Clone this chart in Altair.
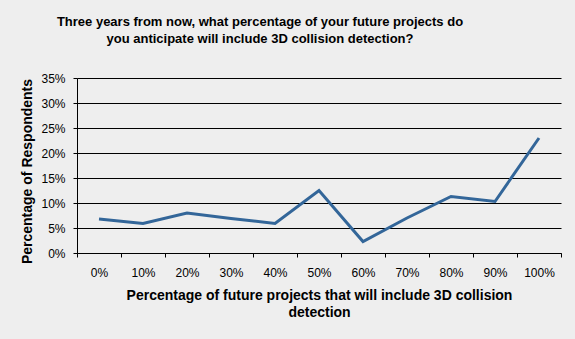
import altair as alt
import pandas as pd

categories = ["0%", "10%", "20%", "30%", "40%", "50%", "60%", "70%", "80%", "90%", "100%"]
values = [0.068, 0.059, 0.080, 0.069, 0.059, 0.125, 0.023, 0.070, 0.113, 0.103, 0.230]
y_ticks = [0, 0.05, 0.10, 0.15, 0.20, 0.25, 0.30, 0.35]

df = pd.DataFrame({"cat": categories, "val": values})

FONT = "Liberation Sans"

chart = alt.Chart(df).mark_line(color="#336699", strokeWidth=3).encode(
    x=alt.X("cat:N", sort=categories,
            scale=alt.Scale(paddingInner=0, paddingOuter=0),
            axis=alt.Axis(title=["Percentage of future projects that will include 3D collision", "detection"],
                          labelAngle=0, tickBand="extent", tickSize=4, labelPadding=10,
                          titlePadding=10, titleFontSize=14, titleFontWeight="bold",
                          titleLineHeight=17, grid=False)),
    y=alt.Y("val:Q", scale=alt.Scale(domain=[0, 0.35], nice=False),
            axis=alt.Axis(title="Percentage of Respondents", format=".0%", values=y_ticks,
                          tickSize=4, labelPadding=8, titleFontSize=14, titleFontWeight="bold",
                          titlePadding=6, titleY=93, grid=True, gridColor="black",
                          gridOpacity=1, gridWidth=1)),
).properties(
    width=484,
    height=175,
    title=alt.TitleParams(
        text=["Three years from now, what percentage of your future projects do",
              "you anticipate will include 3D collision detection?"],
        fontSize=13, fontWeight="bold", font=FONT, lineHeight=17,
        anchor="middle", dx=-59, offset=26, color="black"),
    autosize=alt.AutoSizeParams(type="none"),
    padding={"left": 77, "top": 78, "right": 14, "bottom": 86},
    background="#EEEEEE",
).configure_view(stroke=None).configure_axis(
    domainColor="black", tickColor="black", labelColor="black", titleColor="black",
    labelFont=FONT, titleFont=FONT, labelFontSize=12,
)

chart.save("out.html", embed_options={"renderer": "svg", "actions": False})
